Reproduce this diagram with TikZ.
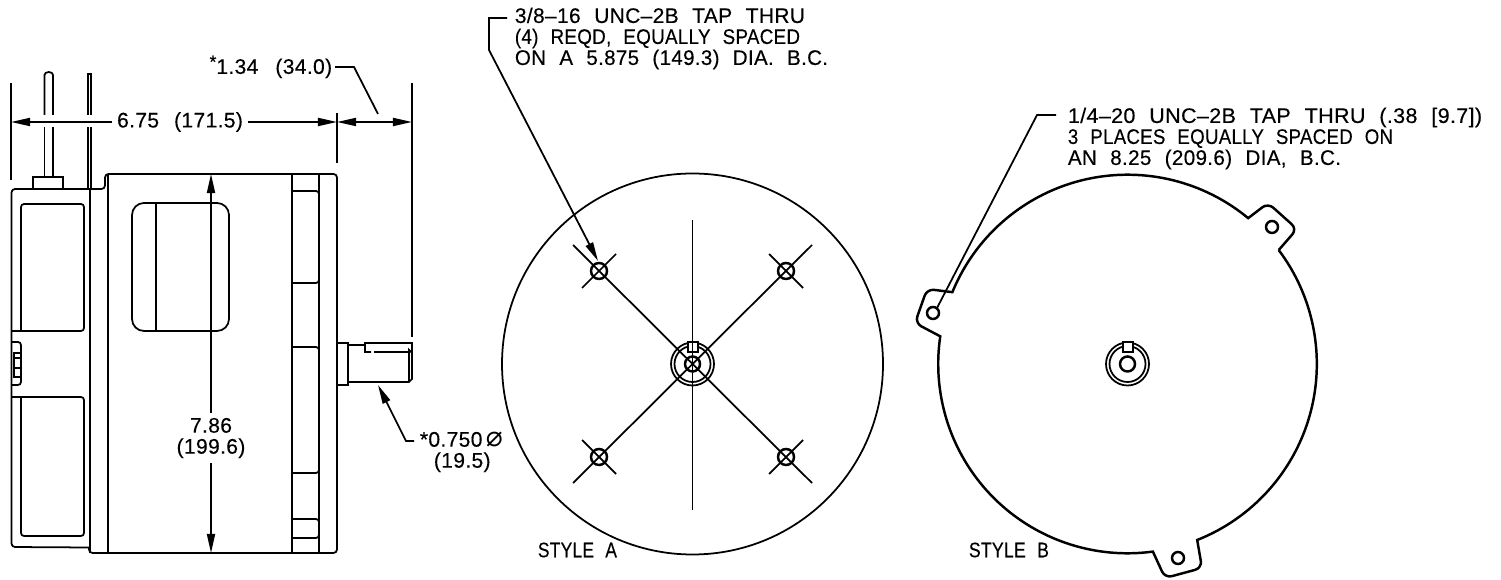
\documentclass[tikz,border=0pt]{standalone}
\usepackage{fontspec}
\setmainfont[LetterSpace=1.5,WordSpace=2.2,FakeBold=0.25]{Liberation Sans}
\newfontfamily\symbfont{DejaVu Sans}
\usetikzlibrary{arrows.meta}
\newcommand{\fitline}[2]{\resizebox{#1}{\height}{#2}}
\newcommand{\lblfont}{\fontsize{6}{5.97}\selectfont\setlength{\lineskiplimit}{-10pt}}
\tikzset{
	every picture/.style={line width=0.5pt},
	>={Stealth[inset=0pt,length=1.9mm,width=0.8mm]},
	lbl/.style={font=\lblfont,inner sep=0.4mm,align=center},
	note/.style={lbl,align=left,anchor=west,inner sep=0pt},
	heavy/.style={line width=0.7pt}
}
\begin{document}
\begin{tikzpicture}[x=0.01cm,y=-0.01cm]
  \useasboundingbox (0,0) rectangle (1501,580);

  %side view, body
	\draw[rounded corners=0.35mm] (11.5,360) -- (11.5,189) -- (105,189) -- (105,174) -- (337,174) -- (337,553) -- (89,553) [sharp corners] -- (89,547.5) [rounded corners=0.35mm] -- (11.5,547) -- cycle;
	\draw (90,189) -- (90,553);
	\draw (108,174) -- (108,553);
	\draw (292,174) -- (292,553);
	\draw (319,174) -- (319,553);

  %rear pockets
	\draw[rounded corners=0.3mm] (21,331) -- (21,204) -- (84,204) -- (84,331) -- (11.5,331);
	\draw[rounded corners=0.3mm] (11.5,397) -- (84,397) -- (84,536) -- (21,536) -- (21,397);
	\draw[rounded corners=0.3mm] (11.5,342) -- (21,342) -- (21,385) -- (11.5,385);
	\draw (14,353) rectangle (21,377);
	\draw (14,358) -- (21,358);
	\draw (14,368) -- (21,368);

  %window
	\draw[rounded corners=1.2mm] (132,203) rectangle (229,331);
	\draw (156,203) -- (156,331);

  %slots on the front flange
	\foreach \ytop/\ybot in {191/283,347/473,519/538}
		\draw[rounded corners=0.3mm] (292,\ytop) -- (319,\ytop) -- (319,\ybot) -- (292,\ybot);

  %pins
	\foreach \xa in {44.5,53,88,91}{
		\draw (\xa,127) -- (\xa,177);
	}
	\draw (44.5,115) -- (44.5,75) arc[start angle=180,end angle=360,x radius=4.25,y radius=3] -- (53,115);
	\draw (88,115) -- (88,74) -- (91,74) -- (91,115);
	\draw (88,177) -- (88,189);
	\draw (91,177) -- (91,189);
	\draw (33,189) -- (33,177) -- (63,177) -- (63,189);

  %shaft
	\draw (337,343) rectangle (348,385);
	\draw (348,345) -- (365,345);
	\draw (348,382) -- (409,382) -- (412,379) -- (412,343) -- (365,343) -- (365,352) -- (371,352);
	\draw (374,352) -- (409,352);
	\draw (409,382) -- (409,350) -- (412,353);

  %extension lines
	\coordinate (extleft) at (11,122);
	\coordinate (extmid) at (337,122);
	\coordinate (extright) at (412,122);
	\coordinate (bodytop) at (211,174);
	\coordinate (bodybot) at (211,553);
	\coordinate (shafttip) at (378,385);
	\draw (11,83) -- (11,180);
	\draw (337,113) -- (337,163);
	\draw (412,83) -- (412,337);

  %dimensions
	\node[lbl] (lengthdim) at (180,122) {6.75\hspace{1.5mm}(171.5)};
	\draw[->] (lengthdim) -- (extleft);
	\draw[->] (lengthdim) -- (extmid);
	\draw[->] (357,122) -- (extmid);
	\draw[->] (357,122) -- (extright);
	\node[lbl,anchor=east,inner sep=0pt] (shaftdim) at (333,67) {\raisebox{0.6mm}{\fontsize{5}{5}\selectfont *}1.34\hspace{1.7mm}(34.0)};
	\coordinate (shaftknee) at (354,67);
	\coordinate (shaftend) at (378,114);
	\draw (335,67) -- (shaftknee) -- (shaftend);
	\node[lbl] (heightdim) at (211,438) {7.86\\(199.6)};
	\draw[->] (heightdim) -- (bodytop);
	\draw[->] (heightdim) -- (bodybot);
	\node[lbl,anchor=west,align=left,inner sep=0pt] (diadim) at (419,452) {*0.750\,{\symbfont\fontsize{8}{6}\selectfont ⌀}\\\hspace*{1.4mm}(19.5)};
	\coordinate (diaknee) at (406,441);
	\draw[->] (414,441) -- (diaknee) -- (shafttip);

  %style A
	\coordinate (hubA) at (692.5,364);
	\draw (hubA) circle[radius=190.5];
	\draw (692.5,220) -- (692.5,510);
	\foreach \hx/\hy/\sx/\sy in {599/271/-1/-1,786/271/1/-1,599/457/-1/1,786/457/1/1}{
		\draw[heavy] (\hx,\hy) circle[radius=8];
		\draw (hubA) -- (\hx+\sx*26,\hy+\sy*26);
		\draw (\hx+\sx*17,\hy-\sy*17) -- (\hx-\sx*17,\hy+\sy*17);
	}
	\draw (hubA) circle[radius=21.5];
	\draw (hubA) circle[radius=18];
	\draw[fill=white] (688,342) rectangle (698,352);
	\draw[heavy] (hubA) circle[radius=7.5];
	\draw (692.5,342) -- (692.5,352);

	\node[note] (noteA) at (514,38.5) {\fitline{2.90cm}{3/8–16 UNC–2B TAP THRU}\\\fitline{2.85cm}{(4) REQD, EQUALLY SPACED}\\\fitline{3.13cm}{ON A 5.875 (149.3) DIA. B.C.}};
	\coordinate (kneeA) at (489,18);
	\coordinate (kneeB) at (489,50);
	\coordinate (holeA) at (598,261);
	\draw[->] (507,18) -- (kneeA) -- (kneeB) -- (holeA);
	\node[note] (styleA) at (537,550) {\fitline{0.79cm}{STYLE A}};

  %style B
	\coordinate (hubB) at (1127.5,364);
	\draw[heavy] ([shift={(-37:189.3)}]hubB) arc[start angle=-37,end angle=68.4,radius=189.3] [rounded corners=0.7mm] -- (1202,568) -- (1165,578) [sharp corners] -- ([shift={(82.3:189.3)}]hubB)
		arc[start angle=82.3,end angle=188.4,radius=189.3] [rounded corners=0.7mm] -- (915,323) -- (927,289) [sharp corners] -- ([shift={(202.3:189.3)}]hubB)
		arc[start angle=202.3,end angle=309.6,radius=189.3] [rounded corners=0.7mm] -- (1268,203) -- (1297,229) [sharp corners] -- ([shift={(-37:189.3)}]hubB);
	\foreach \hx/\hy in {1272/227,933/313,1178/558}
		\draw[heavy] (\hx,\hy) circle[radius=6];
	\draw (hubB) circle[radius=21.5];
	\draw (hubB) circle[radius=18];
	\draw[fill=white] (1123,342) rectangle (1133,352);
	\draw[heavy] (hubB) circle[radius=7.5];

	\node[note] (noteB) at (1067,138.5) {\fitline{4.14cm}{1/4–20 UNC–2B TAP THRU (.38 [9.7])}\\\fitline{3.25cm}{3 PLACES EQUALLY SPACED ON}\\\fitline{2.73cm}{AN 8.25 (209.6) DIA, B.C.}};
	\coordinate (kneeC) at (1037,115);
	\coordinate (holeB) at (937,308);
	\draw (1056,115) -- (kneeC) -- (holeB);
	\node[note] (styleB) at (968,550) {\fitline{0.80cm}{STYLE B}};
\end{tikzpicture}
\end{document}
